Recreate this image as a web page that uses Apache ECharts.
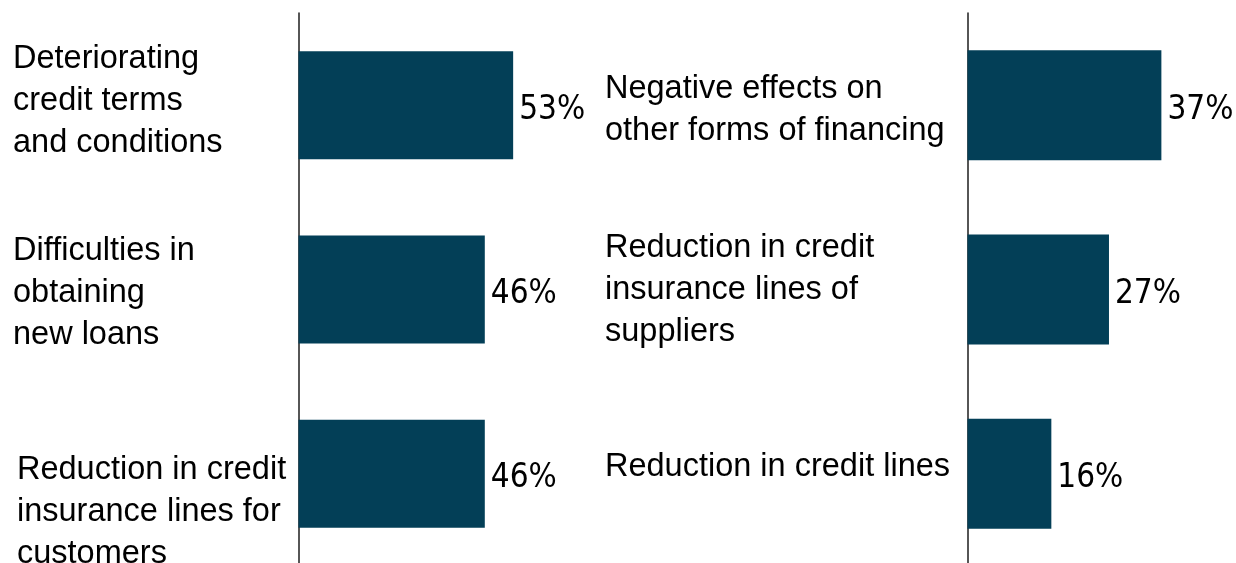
<!DOCTYPE html>
<html>
<head>
<meta charset="utf-8">
<script src="https://cdn.jsdelivr.net/npm/echarts@6/dist/echarts.min.js"></script>
<style>
  html, body { margin: 0; padding: 0; background: #ffffff; }
  #chart { width: 1236px; height: 563px; }
</style>
</head>
<body>
<div id="chart"></div>
<script>
// Left panel: share of respondents (%)
const leftCategories = [
  'Deteriorating\ncredit terms\nand conditions',
  'Difficulties in\nobtaining\nnew loans',
  'Reduction in credit\ninsurance lines for\ncustomers'
];
const leftValues = [53, 46, 46];

// Right panel: share of respondents (%)
const rightCategories = [
  'Negative effects on\nother forms of financing',
  'Reduction in credit\ninsurance lines of\nsuppliers',
  'Reduction in credit lines'
];
const rightValues = [37, 27, 16];

const LABEL_FONT = '"Liberation Sans", Arial, sans-serif';
const VALUE_FONT = '"DejaVu Sans Condensed", "Liberation Sans", sans-serif';
const BAR_COLOR = '#033f57';

// vertical nudge of each category label (px, + = down) and whether it is indented
const leftShift = [-4, 4, 38];
const leftIndent = [false, false, true];
const rightShift = [5, 1, -7];
const rightIndent = [false, false, false];

// Builds a rich-text label: an invisible spacer line above or below the
// text moves the block off the bar centre by `shift` pixels.
function makeFormatter(shifts, indents) {
  return function (value, index) {
    const key = indents[index] ? 'ind' : 't';
    const body = value.split('\n').map(line => '{' + key + '|' + line + '}').join('\n');
    const d = shifts[index];
    if (d > 0) return '{sp' + index + '| }\n' + body;
    if (d < 0) return body + '\n{sp' + index + '| }';
    return body;
  };
}

function makeRich(shifts) {
  const base = {
    fontFamily: LABEL_FONT,
    fontSize: 32.5,
    lineHeight: 42,
    color: '#000000'
  };
  const rich = {
    t: Object.assign({}, base),
    ind: Object.assign({}, base, { padding: [0, 0, 0, 4] })
  };
  shifts.forEach((d, i) => {
    rich['sp' + i] = { fontSize: 1, lineHeight: Math.max(1, Math.abs(d) * 2) };
  });
  return rich;
}

function categoryAxis(gridIndex, names, shifts, indents, margin) {
  return {
    type: 'category',
    gridIndex: gridIndex,
    inverse: true,
    data: names,
    axisLine: { show: true, lineStyle: { color: '#1e1e1e', width: 1.5 } },
    axisTick: { show: false },
    axisLabel: {
      margin: margin,
      align: 'left',
      verticalAlign: 'middle',
      color: '#000000',
      fontFamily: LABEL_FONT,
      fontSize: 32.5,
      lineHeight: 42,
      formatter: makeFormatter(shifts, indents),
      rich: makeRich(shifts)
    }
  };
}

function valueAxis(gridIndex, max) {
  return {
    type: 'value',
    gridIndex: gridIndex,
    min: 0,
    max: max,
    show: false,
    splitLine: { show: false }
  };
}

function barSeries(axisIndex, values, width) {
  return {
    type: 'bar',
    xAxisIndex: axisIndex,
    yAxisIndex: axisIndex,
    data: values,
    barWidth: width,
    itemStyle: { color: BAR_COLOR },
    silent: true,
    label: {
      show: true,
      position: 'right',
      distance: 6,
      offset: [0, 5],
      formatter: '{c}%',
      color: '#000000',
      fontFamily: VALUE_FONT,
      fontSize: 33
    }
  };
}

const chart = echarts.init(document.getElementById('chart'), null, { renderer: 'canvas' });
chart.setOption({
  animation: false,
  backgroundColor: '#ffffff',
  grid: [
    { left: 298.5, top: 13, width: 405, height: 553, containLabel: false, outerBoundsMode: 'none' },
    { left: 967.5, top: 13, width: 262, height: 553, containLabel: false, outerBoundsMode: 'none' }
  ],
  xAxis: [valueAxis(0, 100), valueAxis(1, 50)],
  yAxis: [
    categoryAxis(0, leftCategories, leftShift, leftIndent, 285.5),
    categoryAxis(1, rightCategories, rightShift, rightIndent, 362.5)
  ],
  series: [
    barSeries(0, leftValues, 108),
    barSeries(1, rightValues, 110)
  ]
});
</script>
</body>
</html>
